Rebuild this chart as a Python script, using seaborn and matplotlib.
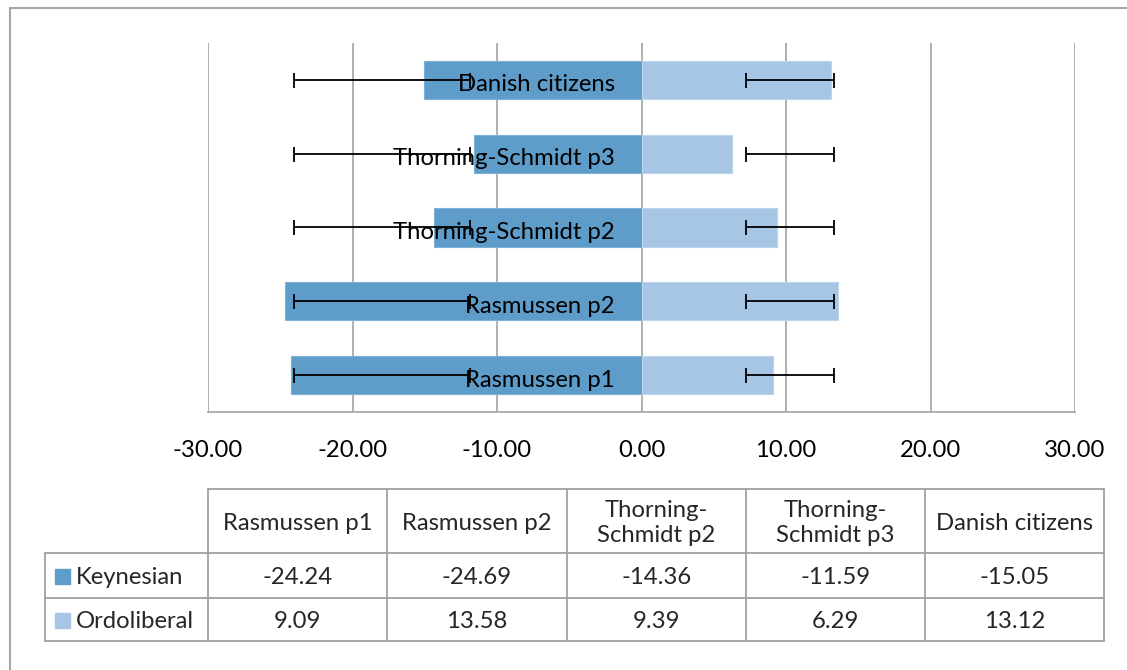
import matplotlib
matplotlib.use("Agg")
import matplotlib.pyplot as plt
import matplotlib.transforms as mtransforms
import seaborn as sns
from matplotlib.lines import Line2D
from matplotlib.patches import Rectangle

# ---------------- data ----------------
categories = ["Rasmussen p1", "Rasmussen p2", "Thorning-Schmidt p2",
              "Thorning-Schmidt p3", "Danish citizens"]
table_headers = ["Rasmussen p1", "Rasmussen p2", "Thorning-\nSchmidt p2",
                 "Thorning-\nSchmidt p3", "Danish citizens"]
series_names = ["Keynesian", "Ordoliberal"]
keynesian = [-24.24, -24.69, -14.36, -11.59, -15.05]
ordoliberal = [9.09, 13.58, 9.39, 6.29, 13.12]
keyn_err_lo = [-24.06, -24.06, -24.06, -24.06, -24.06]
keyn_err_hi = [-11.90, -11.90, -11.90, -11.90, -11.90]
ordo_err_lo = [7.24, 7.24, 7.24, 7.24, 7.24]
ordo_err_hi = [13.31, 13.31, 13.31, 13.31, 13.31]
x_ticks = [-30, -20, -10, 0, 10, 20, 30]

# ---------------- style ----------------
sns.set_theme(style="white")
plt.rcParams["font.family"] = ["Lato", "DejaVu Sans"]
FS = 17.2
C_KEY = "#5E9CC9"
C_ORD = "#A7C6E5"
GRID = "#A9A9A9"

W, H = 1127, 670
fig = plt.figure(figsize=(W / 100, H / 100), dpi=100)

# main plot area (pixel geometry from reference)
L, R, T, B = 208, 1075, 43, 412
ax = fig.add_axes([L / W, 1 - B / H, (R - L) / W, (B - T) / H])

order = categories[::-1]  # top to bottom
sns.barplot(x=keynesian, y=categories, order=order, orient="h", color=C_KEY,
            saturation=1, width=0.52, ax=ax, edgecolor="#7FB1D6", linewidth=0.8)
sns.barplot(x=ordoliberal, y=categories, order=order, orient="h", color=C_ORD,
            saturation=1, width=0.52, ax=ax, edgecolor="#BCD4EC", linewidth=0.8)

pos = [order.index(c) for c in categories]
for lo, hi in ((keyn_err_lo, keyn_err_hi), (ordo_err_lo, ordo_err_hi)):
    centers = [(a + b) / 2 for a, b in zip(lo, hi)]
    half = [(b - a) / 2 for a, b in zip(lo, hi)]
    ax.errorbar(centers, pos, xerr=half, fmt="none", ecolor="black",
                elinewidth=1.3, capsize=5.4, capthick=1.3, zorder=3)

ax.set_xlim(-30, 30)
ax.set_ylim(len(order) - 0.5, -0.5)
ax.set_xticks(x_ticks)
ax.set_xticklabels([f"{v:.2f}" for v in x_ticks], fontsize=FS, color="black")
ax.tick_params(axis="x", length=0, pad=20)
for v in x_ticks:
    ax.axvline(v, color=GRID, lw=1.3, zorder=0.5)
ax.set_xlabel("")
ax.set_ylabel("")

# category labels next to the zero line
ax.spines["left"].set_position(("data", 0))
ax.spines["left"].set_visible(False)
ax.spines["top"].set_visible(False)
ax.spines["right"].set_visible(False)
ax.spines["bottom"].set_color(GRID)
ax.spines["bottom"].set_linewidth(1.3)
ax.tick_params(axis="y", length=0, pad=19, labelsize=FS, labelcolor="black")
ax.yaxis.set_zorder(4)
shift = mtransforms.ScaledTranslation(0, -3 / 100, fig.dpi_scale_trans)
for lab in ax.get_yticklabels():
    lab.set_transform(lab.get_transform() + shift)

# ---------------- data table + frame (figure pixel coords) ----------------
ov = fig.add_axes([0, 0, 1, 1], zorder=-1)
ov.set_xlim(0, W)
ov.set_ylim(H, 0)
ov.axis("off")
ov.patch.set_alpha(0)

# outer chart frame
ov.add_line(Line2D([10, W], [8, 8], color="#A6A6A6", lw=1.5))
ov.add_line(Line2D([10, 10], [8, H], color="#A6A6A6", lw=1.5))

tc = "#A0A0A0"
tlw = 1.3
cols = [208, 387, 567, 746, 925, 1104]
y0, y1, y2, y3 = 489, 553, 598, 641
leg_x = 45
# horizontal lines
ov.add_line(Line2D([cols[0], cols[-1]], [y0, y0], color=tc, lw=tlw))
for yy in (y1, y2, y3):
    ov.add_line(Line2D([leg_x, cols[-1]], [yy, yy], color=tc, lw=tlw))
# vertical lines
ov.add_line(Line2D([leg_x, leg_x], [y1, y3], color=tc, lw=tlw))
for xx in cols:
    ov.add_line(Line2D([xx, xx], [y0, y3], color=tc, lw=tlw))

for i, h in enumerate(table_headers):
    ov.text((cols[i] + cols[i + 1]) / 2, (y0 + y1) / 2 + 2, h, ha="center",
            va="center", fontsize=FS, linespacing=1.25)
for row, (name, vals, col) in enumerate(zip(series_names, [keynesian, ordoliberal],
                                            [C_KEY, C_ORD])):
    ya, yb = [(y1, y2), (y2, y3)][row]
    yc = (ya + yb) / 2 + 2
    ov.add_patch(Rectangle((55, yc - 9), 15, 15, color=col))
    ov.text(76, yc, name, ha="left", va="center", fontsize=FS)
    for i, v in enumerate(vals):
        ov.text((cols[i] + cols[i + 1]) / 2, yc, f"{v:.2f}", ha="center",
                va="center", fontsize=FS)

fig.savefig("out.png", dpi=100)
